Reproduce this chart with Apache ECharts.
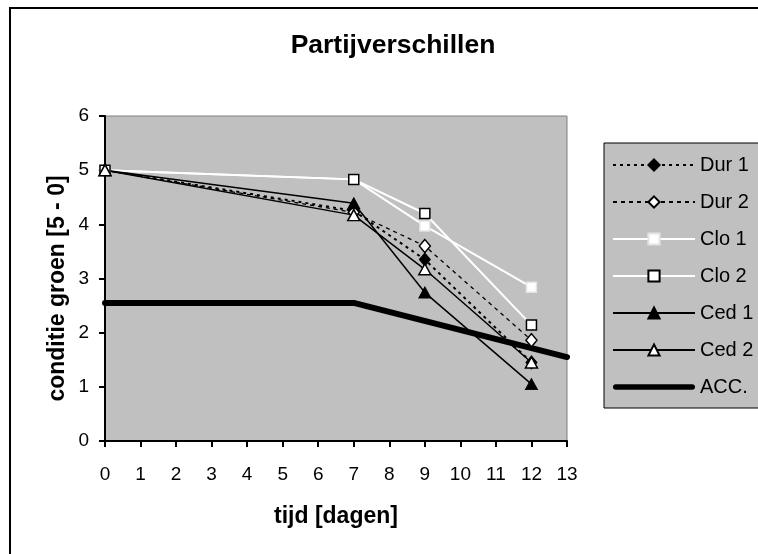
<!DOCTYPE html>
<html>
<head>
<meta charset="utf-8">
<script src="https://cdn.jsdelivr.net/npm/echarts@6/dist/echarts.min.js"></script>
<style>
html,body{margin:0;padding:0;background:#fff;}
#c{width:758px;height:554px;}
</style>
</head>
<body>
<div id="c"></div>
<script>
var days = [0, 7, 9, 12];
var dur1 = [5, 4.25, 3.35, 1.45];
var dur2 = [5, 4.22, 3.60, 1.86];
var clo1 = [5, 4.83, 3.97, 2.84];
var clo2 = [5, 4.83, 4.20, 2.14];
var ced1 = [5, 4.39, 2.74, 1.05];
var ced2 = [5, 4.17, 3.17, 1.45];
var accDays = [0, 7, 13];
var acc = [2.55, 2.55, 1.55];
var names = ['Dur 1', 'Dur 2', 'Clo 1', 'Clo 2', 'Ced 1', 'Ced 2', 'ACC.'];

function pairs(xs, ys) { return xs.map(function (x, i) { return [x, ys[i]]; }); }

var FONT = 'Liberation Sans, Arial, sans-serif';
var chart = echarts.init(document.getElementById('c'), null, {renderer: 'canvas'});

var legendData = names.map(function (n) {
  if (n === 'ACC.') {
    return {name: n, icon: 'path://M3,0 L85,0 A3,3 0 0 1 85,6 L3,6 A3,3 0 0 1 3,0 Z',
            itemStyle: {color: '#000', borderWidth: 0}};
  }
  return {name: n};
});

chart.setOption({
  animation: false,
  backgroundColor: '#ffffff',
  graphic: [
    {type: 'rect', z: -10, shape: {x: 10, y: 8, width: 800, height: 600},
     style: {fill: '#ffffff', stroke: '#000', lineWidth: 2}},
    {type: 'rect', z: 0, shape: {x: 604, y: 143, width: 200, height: 265},
     style: {fill: '#c0c0c0', stroke: '#000', lineWidth: 1}}
  ],
  title: {
    text: 'Partijverschillen',
    left: 388, top: 27, textAlign: 'center',
    textStyle: {fontFamily: FONT, fontWeight: 'bold', fontSize: 26.5, color: '#000'}
  },
  legend: {
    orient: 'vertical',
    left: 612, top: 155,
    padding: 0,
    itemWidth: 82, itemHeight: 14, itemGap: 17,
    data: legendData,
    textStyle: {fontFamily: FONT, fontSize: 20, color: '#000'},
    z: 5
  },
  grid: {
    left: 105, top: 116, width: 462, height: 325,
    show: true, backgroundColor: '#c0c0c0', borderColor: '#808080', borderWidth: 1
  },
  xAxis: {
    type: 'value', min: 0, max: 13, interval: 1,
    name: 'tijd [dagen]', nameLocation: 'middle', nameGap: 64, nameMoveOverlap: false,
    nameTextStyle: {fontFamily: FONT, fontWeight: 'bold', fontSize: 23, color: '#000'},
    axisLine: {show: true, lineStyle: {color: '#000', width: 2}},
    axisTick: {show: true, length: 6, lineStyle: {color: '#000', width: 2}},
    axisLabel: {margin: 24, fontFamily: FONT, fontSize: 19, color: '#000'},
    splitLine: {show: false}
  },
  yAxis: {
    type: 'value', min: 0, max: 6, interval: 1,
    name: 'conditie groen [5 - 0]', nameLocation: 'middle', nameGap: 36, nameRotate: 90,
    nameMoveOverlap: false,
    nameTextStyle: {fontFamily: FONT, fontWeight: 'bold', fontSize: 23, color: '#000',
                    padding: [0, 20, 0, 0]},
    axisLine: {show: true, lineStyle: {color: '#000', width: 2}},
    axisTick: {show: true, length: 6, lineStyle: {color: '#000', width: 2}},
    axisLabel: {margin: 16, fontFamily: FONT, fontSize: 19, color: '#000'},
    splitLine: {show: false}
  },
  series: [
    {name: 'Dur 1', type: 'line', data: pairs(days, dur1), symbol: 'diamond', symbolSize: [11, 13],
     lineStyle: {color: '#000', width: 2, type: [3, 4]},
     itemStyle: {color: '#000', borderColor: '#000', borderWidth: 1}},
    {name: 'Dur 2', type: 'line', data: pairs(days, dur2), symbol: 'diamond', symbolSize: [11, 13],
     lineStyle: {color: '#000', width: 1.3, type: [4, 4]},
     itemStyle: {color: '#fff', borderColor: '#000', borderWidth: 1.5}},
    {name: 'Clo 1', type: 'line', data: pairs(days, clo1), symbol: 'rect', symbolSize: 10,
     lineStyle: {color: '#fff', width: 2},
     itemStyle: {color: '#fff', borderColor: '#e4e4e4', borderWidth: 1.5}},
    {name: 'Clo 2', type: 'line', data: pairs(days, clo2), symbol: 'rect', symbolSize: 10,
     lineStyle: {color: '#fff', width: 2},
     itemStyle: {color: '#fff', borderColor: '#000', borderWidth: 1.5}},
    {name: 'Ced 1', type: 'line', data: pairs(days, ced1), symbol: 'triangle', symbolSize: [12, 11],
     lineStyle: {color: '#000', width: 1.5},
     itemStyle: {color: '#000', borderColor: '#000', borderWidth: 1}},
    {name: 'Ced 2', type: 'line', data: pairs(days, ced2), symbol: 'triangle', symbolSize: [12, 11],
     lineStyle: {color: '#000', width: 1.5},
     itemStyle: {color: '#fff', borderColor: '#000', borderWidth: 1.5}},
    {name: 'ACC.', type: 'line', data: pairs(accDays, acc), symbol: 'none',
     lineStyle: {color: '#000', width: 6, cap: 'round', join: 'round'},
     itemStyle: {color: '#000'}}
  ]
});
</script>
</body>
</html>
